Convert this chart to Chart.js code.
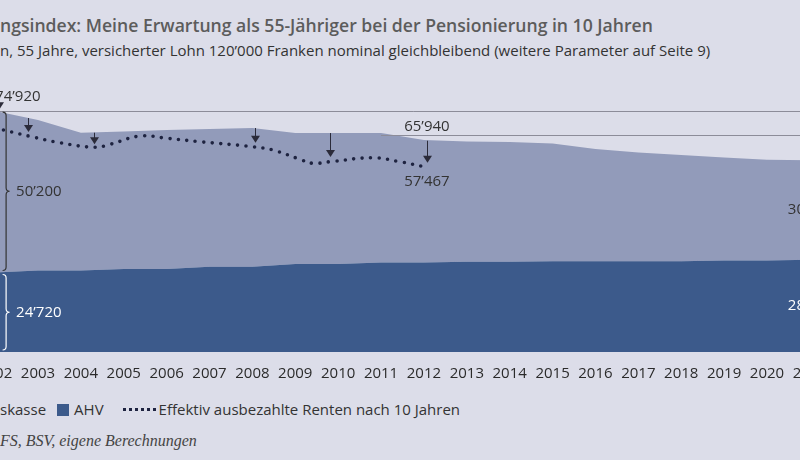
<!DOCTYPE html>
<html>
<head>
<meta charset="utf-8">
<script src="https://cdn.jsdelivr.net/npm/chart.js@4.4.1/dist/chart.umd.min.js"></script>
<style>
  body { margin: 0; width: 800px; height: 460px; overflow: hidden; background: #dcdde9; position: relative; font-family: 'Open Sans', sans-serif; color: #333; }
  .txt { position: absolute; white-space: nowrap; line-height: 1; }
  #title { left: 0; top: 17px; font-size: 17.6px; font-weight: 600; color: #5c5c5c; }
  #subtitle { left: 0; top: 43px; font-size: 15px; color: #333; }
  #legend { left: 0; top: 402px; font-size: 15px; color: #333; display: flex; align-items: center; }
  #legend .sw { display: inline-block; width: 12px; height: 12px; background: #3c5a8b; margin: 0 5px 0 11px; }
  #legend .dots { display: inline-block; width: 33px; border-top: 3.5px dotted #1e2340; margin: 0 3px 0 19px; }
  #source { left: 0; top: 433px; font-size: 16px; font-style: italic; font-family: 'Liberation Serif', serif; color: #444; }
  #wrap { position: absolute; left: -60px; top: 0; width: 920px; height: 400px; }
</style>
</head>
<body>
<div id="title" class="txt">ngsindex: Meine Erwartung als 55-Jähriger bei der Pensionierung in 10 Jahren</div>
<div id="subtitle" class="txt">n, 55 Jahre, versicherter Lohn 120’000 Franken nominal gleichbleibend (weitere Parameter auf Seite 9)</div>
<div id="legend" class="txt"><span>skasse</span><span class="sw"></span><span>AHV</span><span class="dots"></span><span>Effektiv ausbezahlte Renten nach 10 Jahren</span></div>
<div id="source" class="txt">FS, BSV, eigene Berechnungen</div>
<div id="wrap"><canvas id="chart" width="920" height="400"></canvas></div>
<script>
// Data (CHF per year)
const years = [2002, 2003, 2004, 2005, 2006, 2007, 2008, 2009, 2010, 2011,
               2012, 2013, 2014, 2015, 2016, 2017, 2018, 2019, 2020, 2021];
const ahv = [24720, 25320, 25320, 25800, 25800, 26520, 26520, 27360, 27360, 27840,
             27840, 28080, 28080, 28200, 28200, 28200, 28200, 28440, 28440, 28680];
const pensionskasse = [50200, 46830, 42860, 42750, 43200, 42810, 43120, 40720, 40720, 40240,
                       38100, 37360, 37200, 36600, 34900, 33820, 33040, 32030, 31300, 30960];

// Effektiv ausbezahlte Renten nach 10 Jahren
const effYears = [2002.0, 2002.81, 2003.51, 2004.33, 2004.68, 2005.38, 2006.01, 2006.78,
                  2008.01, 2008.48, 2009.11, 2009.41, 2009.81, 2010.81, 2011.44, 2012.05];
const effValues = [69630, 67060, 65070, 63640, 64570, 67150, 66440, 65380,
                   63820, 62800, 59910, 58660, 59160, 60400, 59160, 57467];

// Arrows from expectation down to the effective pension
const arrowYears = [2002.08, 2002.77, 2004.31, 2008.06, 2009.81, 2012.07];
const arrowFrom = [77000, 72750, 68180, 69640, 68080, 65690];
const arrowTo = [75500, 68390, 64570, 65070, 60620, 58850];

const refLines = [
  { from: 2002.0, value: 74920 },
  { from: 2011.0, value: 67450 }
];
const notes = [
  { year: 2002.0, value: 74920, text: '74’920', align: 'left', dy: -14 },
  { year: 2012.07, value: 65940, text: '65’940', align: 'center', dy: -13 },
  { year: 2012.07, value: 57467, text: '57’467', align: 'center', dy: 15 }
];

const fmt = (v) => String(v).replace(/\B(?=(\d{3})+(?!\d))/g, '’');
const toXY = (xs, ys) => xs.map((x, i) => ({ x: x, y: ys[i] }));

const annotations = {
  id: 'annotations',
  afterDatasetsDraw(chart) {
    const ctx = chart.ctx;
    const x = chart.scales.x, y = chart.scales.y;
    ctx.save();

    // reference lines
    ctx.strokeStyle = '#8c8c99';
    ctx.lineWidth = 1;
    refLines.forEach((r) => {
      const py = Math.round(y.getPixelForValue(r.value)) + 0.5;
      ctx.beginPath();
      ctx.moveTo(x.getPixelForValue(r.from), py);
      ctx.lineTo(chart.chartArea.right, py);
      ctx.stroke();
    });

    // arrows
    ctx.strokeStyle = '#2b2b3a';
    ctx.fillStyle = '#2b2b3a';
    arrowYears.forEach((yr, i) => {
      const px = Math.round(x.getPixelForValue(yr)) + 0.5;
      const y1 = y.getPixelForValue(arrowFrom[i]);
      const y2 = y.getPixelForValue(arrowTo[i]);
      ctx.beginPath();
      ctx.moveTo(px, y1);
      ctx.lineTo(px, y2 - 6);
      ctx.stroke();
      ctx.beginPath();
      ctx.moveTo(px - 4.5, y2 - 7);
      ctx.lineTo(px + 4.5, y2 - 7);
      ctx.lineTo(px, y2);
      ctx.closePath();
      ctx.fill();
    });

    // braces at the start
    const brace = (bx, top, bottom, color) => {
      const mid = (top + bottom) / 2, r = 3.5;
      ctx.strokeStyle = color;
      ctx.lineWidth = 1.2;
      ctx.beginPath();
      ctx.moveTo(bx - r, top);
      ctx.quadraticCurveTo(bx, top, bx, top + r);
      ctx.lineTo(bx, mid - r);
      ctx.quadraticCurveTo(bx, mid, bx + r, mid);
      ctx.quadraticCurveTo(bx, mid, bx, mid + r);
      ctx.lineTo(bx, bottom - r);
      ctx.quadraticCurveTo(bx, bottom, bx - r, bottom);
      ctx.stroke();
    };
    const bx = x.getPixelForValue(years[0]) + 11;
    const yTot = y.getPixelForValue(ahv[0] + pensionskasse[0]);
    const yAhv = y.getPixelForValue(ahv[0]);
    const yZero = y.getPixelForValue(0);
    brace(bx, yTot + 1, yAhv - 2, '#333');
    brace(bx, yAhv + 2, yZero - 2, '#ffffff');

    ctx.font = '15px "Open Sans"';
    ctx.textBaseline = 'middle';
    ctx.textAlign = 'left';
    ctx.fillStyle = '#333';
    ctx.fillText(fmt(pensionskasse[0]), bx + 10, (yTot + yAhv) / 2);
    ctx.fillStyle = '#ffffff';
    ctx.fillText(fmt(ahv[0]), bx + 10, (yAhv + yZero) / 2);

    // end labels
    const last = years.length - 1;
    const ex = x.getPixelForValue(years[last]) - 22;
    const eTot = y.getPixelForValue(ahv[last] + pensionskasse[last]);
    const eAhv = y.getPixelForValue(ahv[last]);
    ctx.fillStyle = '#333';
    ctx.fillText(fmt(pensionskasse[last]), ex, (eTot + eAhv) / 2);
    ctx.fillStyle = '#ffffff';
    ctx.fillText(fmt(ahv[last]), ex, (eAhv + yZero) / 2);

    // value notes
    ctx.fillStyle = '#333';
    notes.forEach((n) => {
      ctx.textAlign = n.align;
      ctx.fillText(n.text, x.getPixelForValue(n.year), y.getPixelForValue(n.value) + n.dy);
    });
    ctx.restore();
  }
};

new Chart(document.getElementById('chart'), {
  type: 'line',
  data: {
    datasets: [
      {
        label: 'AHV',
        data: toXY(years, ahv),
        stack: 'renten',
        backgroundColor: '#3c5a8b',
        borderWidth: 0,
        pointRadius: 0,
        fill: 'origin',
        order: 2
      },
      {
        label: 'Pensionskasse',
        data: toXY(years, pensionskasse),
        stack: 'renten',
        backgroundColor: '#929bba',
        borderWidth: 0,
        pointRadius: 0,
        fill: '-1',
        order: 3
      },
      {
        label: 'Effektiv ausbezahlte Renten nach 10 Jahren',
        data: toXY(effYears, effValues),
        stack: 'effektiv',
        borderColor: '#1e2340',
        borderWidth: 3.6,
        borderDash: [0, 8.5],
        borderCapStyle: 'round',
        pointRadius: 0,
        fill: false,
        tension: 0.4,
        order: 1
      }
    ]
  },
  options: {
    responsive: false,
    animation: false,
    events: [],
    layout: { padding: { top: 94.7, left: 42.24, right: 28.7, bottom: 18 } },
    plugins: { legend: { display: false }, tooltip: { enabled: false } },
    scales: {
      x: {
        type: 'linear',
        min: 2001.7,
        max: 2021.5,
        grid: { display: false, drawTicks: false },
        border: { display: false },
        ticks: {
          stepSize: 1,
          includeBounds: false,
          padding: 13,
          color: '#2b2b2b',
          font: { family: 'Open Sans', size: 15 },
          callback: (v) => String(v)
        },
        afterFit: (scale) => { scale.height = 30; }
      },
      y: {
        display: false,
        stacked: true,
        min: 0,
        max: 80000
      }
    }
  },
  plugins: [annotations]
});
</script>
</body>
</html>
